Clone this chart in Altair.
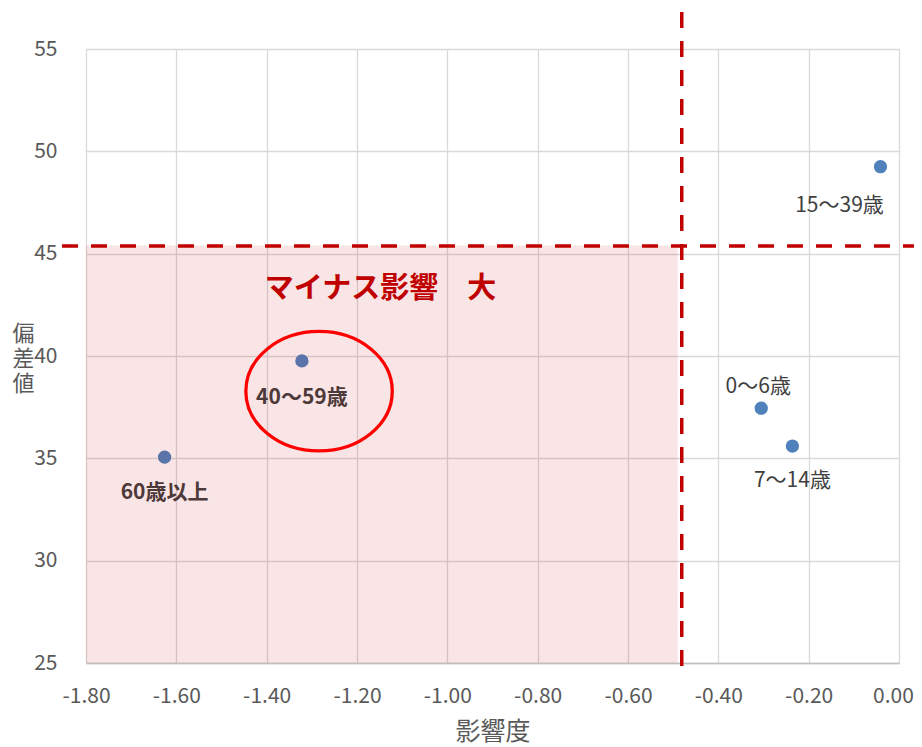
import altair as alt
import pandas as pd

# ---- data ----
groups = ["0～6歳", "7～14歳", "15～39歳", "40～59歳", "60歳以上"]
impact = [-0.305, -0.236, -0.041, -1.322, -1.626]      # 影響度
score = [37.45, 35.60, 49.25, 39.76, 35.06]            # 偏差値

x_ticks = [-1.8, -1.6, -1.4, -1.2, -1.0, -0.8, -0.6, -0.4, -0.2, 0.0]
y_ticks = [25, 30, 35, 40, 45, 50, 55]

x_threshold = [-0.481]
y_threshold = [45.37]
zone_x = [-1.80, -0.490]
zone_y = [25.0, 45.40]
zone_label = ["マイナス影響　大"]
zone_label_pos = [-1.148, 43.26]
highlight_center = [-1.284, 38.28]

FONT = "Noto Sans CJK JP"
GRAY = "#595959"
RED = "#C00000"

pts = pd.DataFrame({"group": groups, "x": impact, "y": score})

xscale = alt.Scale(domain=[-1.8, 0.0], nice=False, zero=False)
yscale = alt.Scale(domain=[25, 55], nice=False, zero=False)

xaxis = alt.Axis(
    values=x_ticks, labelExpr="replace(format(datum.value, '.2f'), '\u2212', '-')",
    grid=True, gridColor="#D9D9D9", gridWidth=1.3, ticks=False, tickSize=0,
    domain=True, domainColor="#BFBFBF", domainWidth=1.3,
    labelFont=FONT, labelFontSize=21, labelColor=GRAY, labelPadding=22,
    labelFlush=False, labelOverlap=False,
    labelOffset={"condition": {"test": "datum.value == 0", "value": -6}, "value": 0},
    title="影響度", titleFont=FONT, titleFontSize=25, titleFontWeight="normal",
    titleColor=GRAY, titleY=68, titleBaseline="middle",
)
yaxis = alt.Axis(
    values=y_ticks, grid=True, gridColor="#D9D9D9", gridWidth=1.3,
    ticks=False, tickSize=0, domain=False, labelFlush=False,
    labelFont=FONT, labelFontSize=21, labelColor=GRAY, labelPadding=29,
    title=["偏", "差", "値"], titleFont=FONT, titleFontSize=22,
    titleFontWeight="normal", titleColor=GRAY, titleAngle=0,
    titleX=-63, titleY=284, titleAlign="center", titleBaseline="middle",
    titleLineHeight=25,
)

base = alt.Chart(pts)

points = base.mark_circle(size=177, opacity=1, color="#4F81BD").encode(
    x=alt.X("x:Q", scale=xscale, axis=xaxis),
    y=alt.Y("y:Q", scale=yscale, axis=yaxis),
)

label_specs = {
    "15～39歳": (-41, 39, "normal"),
    "0～6歳": (-3, -21, "normal"),
    "7～14歳": (0, 35, "normal"),
    "40～59歳": (0, 37, "bold"),
    "60歳以上": (0, 36, "bold"),
}
labels = []
for g, (dx, dy, w) in label_specs.items():
    labels.append(
        base.transform_filter(alt.datum.group == g)
        .mark_text(font=FONT, fontSize=21, fontWeight=w, color="#404040",
                   dx=dx, dy=dy, align="center", baseline="middle")
        .encode(x=alt.X("x:Q", scale=xscale), y=alt.Y("y:Q", scale=yscale),
                text="group:N")
    )

zone = alt.Chart(pd.DataFrame({"x": [zone_x[0]], "x2": [zone_x[1]],
                               "y": [zone_y[0]], "y2": [zone_y[1]]})).mark_rect(
    color=RED, opacity=0.1
).encode(
    x=alt.X("x:Q", scale=xscale), x2="x2:Q",
    y=alt.Y("y:Q", scale=yscale), y2="y2:Q",
)

vrule = alt.Chart(pd.DataFrame({"x": x_threshold})).mark_rule(
    color=RED, strokeWidth=3.5, strokeDash=[16, 13]
).encode(x=alt.X("x:Q", scale=xscale), y=alt.value(-37), y2=alt.value(620))

hrule = alt.Chart(pd.DataFrame({"y": y_threshold})).mark_rule(
    color=RED, strokeWidth=3.5, strokeDash=[16, 13]
).encode(y=alt.Y("y:Q", scale=yscale), x=alt.value(-24), x2=alt.value(840))

ellipse_path = "M -1 0 A 1 0.816 0 1 1 1 0 A 1 0.816 0 1 1 -1 0 Z"
ellipse = alt.Chart(pd.DataFrame({"x": [highlight_center[0]], "y": [highlight_center[1]]})).mark_point(
    shape=ellipse_path, size=21433, filled=False, color="#FF0000",
    strokeWidth=3.3, opacity=1
).encode(x=alt.X("x:Q", scale=xscale), y=alt.Y("y:Q", scale=yscale))

zone_text = alt.Chart(pd.DataFrame({"t": zone_label, "x": [zone_label_pos[0]],
                                    "y": [zone_label_pos[1]]})).mark_text(
    font=FONT, fontSize=29, fontWeight="bold", color=RED,
    align="center", baseline="middle"
).encode(x=alt.X("x:Q", scale=xscale), y=alt.Y("y:Q", scale=yscale), text="t:N")

chart = alt.layer(points, *labels, zone, vrule, hrule, ellipse, zone_text).properties(
    width=813, height=614,
    padding={"left": 78, "top": 41, "right": 15, "bottom": 84},
    autosize=alt.AutoSizeParams(type="none"),
).configure_view(stroke=None).configure(background="white")

chart.save("out.html", embed_options={"renderer": "svg", "actions": False})
